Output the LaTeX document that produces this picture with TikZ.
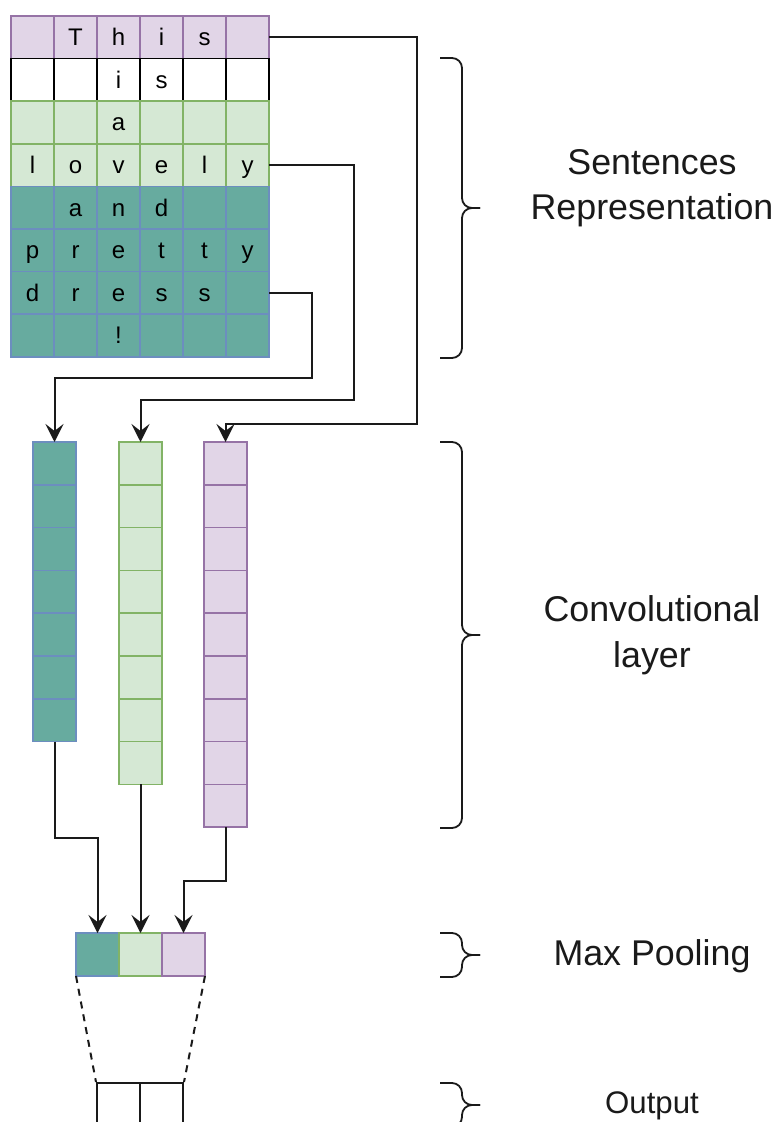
\documentclass[tikz,border=0pt]{standalone}
\usepackage{fontspec}
\setmainfont{Liberation Sans}
\usetikzlibrary{arrows.meta}
\definecolor{lilac}{HTML}{E1D5E7}
\definecolor{lilacline}{HTML}{9673A6}
\definecolor{mint}{HTML}{D5E8D4}
\definecolor{mintline}{HTML}{82B366}
\definecolor{sea}{HTML}{67AB9F}
\definecolor{sealine}{HTML}{6C8EBF}
\definecolor{ink}{HTML}{1A1A1A}
\tikzset{cell/.style={draw, line width=0.8pt, minimum width=21.5pt, minimum height=21.3pt,
  inner sep=0pt, outer sep=0pt, text height=8.5pt, text depth=0pt,
  font=\fontsize{12}{12}\selectfont}}
\tikzset{pu/.style={fill=lilac, draw=lilacline}}
\tikzset{gr/.style={fill=mint, draw=mintline}}
\tikzset{te/.style={fill=sea, draw=sealine}}
\tikzset{wh/.style={fill=white, draw=black}}
\tikzset{conn/.style={draw=ink, line width=1pt, -{Stealth[length=9pt,width=9pt,inset=3.5pt]}}}
\tikzset{brace/.style={draw=ink, line width=0.9pt, rounded corners=5pt}}
\tikzset{lab/.style={font=\fontsize{17.9}{22.6}\selectfont, align=center, text=ink}}
\newcommand{\wordrow}[3]{% row, colour, letters
  \foreach \ch [count=\col] in {#3} {
    \node[cell, #2] (s#1-\col) at ({32.5+43*(\col-1)}, {37.3+42.6*(#1-1)}) {\ch};
  }
}
\newcommand{\featcol}[4]{% name, colour, x, cells
  \foreach \cnum in {1,...,#4} {
    \node[cell, #2, minimum height=21.4pt] (#1\cnum) at (#3, {463.4+42.8*(\cnum-1)}) {};
  }
}
\newcommand{\sidebrace}[2]{% top, bottom
  \draw[brace] (440,#1) -- (462,#1) -- (462,{(#1+#2)/2}) -- (480,{(#1+#2)/2});
  \draw[brace] (440,#2) -- (462,#2) -- (462,{(#1+#2)/2}) -- (480,{(#1+#2)/2});
}

\begin{document}
\begin{tikzpicture}[x=0.5pt, y=-0.5pt]
  \useasboundingbox (0,0) rectangle (777,1122);
  \begin{scope}
    \clip (0,0) rectangle (777,1122);
    % sentence matrix
    \wordrow{1}{pu}{{},T,h,i,s,{}}
    \wordrow{2}{wh}{{},{},i,s,{},{}}
    \wordrow{3}{gr}{{},{},a,{},{},{}}
    \wordrow{4}{gr}{l,o,v,e,l,y}
    \wordrow{5}{te}{{},a,n,d,{},{}}
    \wordrow{6}{te}{p,r,e,t,t,y}
    \wordrow{7}{te}{d,r,e,s,s,{}}
    \wordrow{8}{te}{{},{},!,{},{},{}}
    % feature maps
    \featcol{t}{te}{54.5}{7}
    \featcol{g}{gr}{140.5}{8}
    \featcol{p}{pu}{225.5}{9}
    % pooled vector
    \node[cell, te, minimum height=21.5pt] (m1) at (97.5,954.5) {};
    \node[cell, gr, minimum height=21.5pt] (m2) at (140.5,954.5) {};
    \node[cell, pu, minimum height=21.5pt] (m3) at (183.5,954.5) {};
    % output
    \node[draw=ink, line width=1pt, minimum width=21.5pt, minimum height=40pt,
      anchor=north, inner sep=0pt] (o1) at (118.5,1082) {};
    \node[draw=ink, line width=1pt, minimum width=21.5pt, minimum height=40pt,
      anchor=north, inner sep=0pt] (o2) at (161.5,1082) {};
    \draw[conn] (s7-6.east) -| (312,378) -| (t1.north);
    \draw[conn] (s4-6.east) -| (354,400) -| (g1.north);
    \draw[conn] (s1-6.east) -| (417,424) -| (p1.north);
    \draw[conn] (t7.south) |- (97.5,838) -- (m1.north);
    \draw[conn] (g8.south) -- (m2.north);
    \draw[conn] (p9.south) |- (183.5,881) -- (m3.north);
    \draw[ink, line width=1pt, dash pattern=on 3.5pt off 3pt] (m1.south west) -- (o1.north west);
    \draw[ink, line width=1pt, dash pattern=on 3.5pt off 3pt] (m3.south east) -- (o2.north east);
    % braces and labels
    \sidebrace{58}{358}
    \sidebrace{442}{828}
    \sidebrace{933}{977}
    \sidebrace{1083}{1127}
    \node[lab, anchor=base] (sentlab) at (652,220) {Sentences\\Representation};
    \node[lab, anchor=base] (convlab) at (652,667) {Convolutional\\layer};
    \node[lab, anchor=base] (poollab) at (652,965) {Max Pooling};
    \node[lab, anchor=base, font=\fontsize{15.6}{18}\selectfont] (outlab) at (652,1113) {Output};
  \end{scope}
\end{tikzpicture}
\end{document}
